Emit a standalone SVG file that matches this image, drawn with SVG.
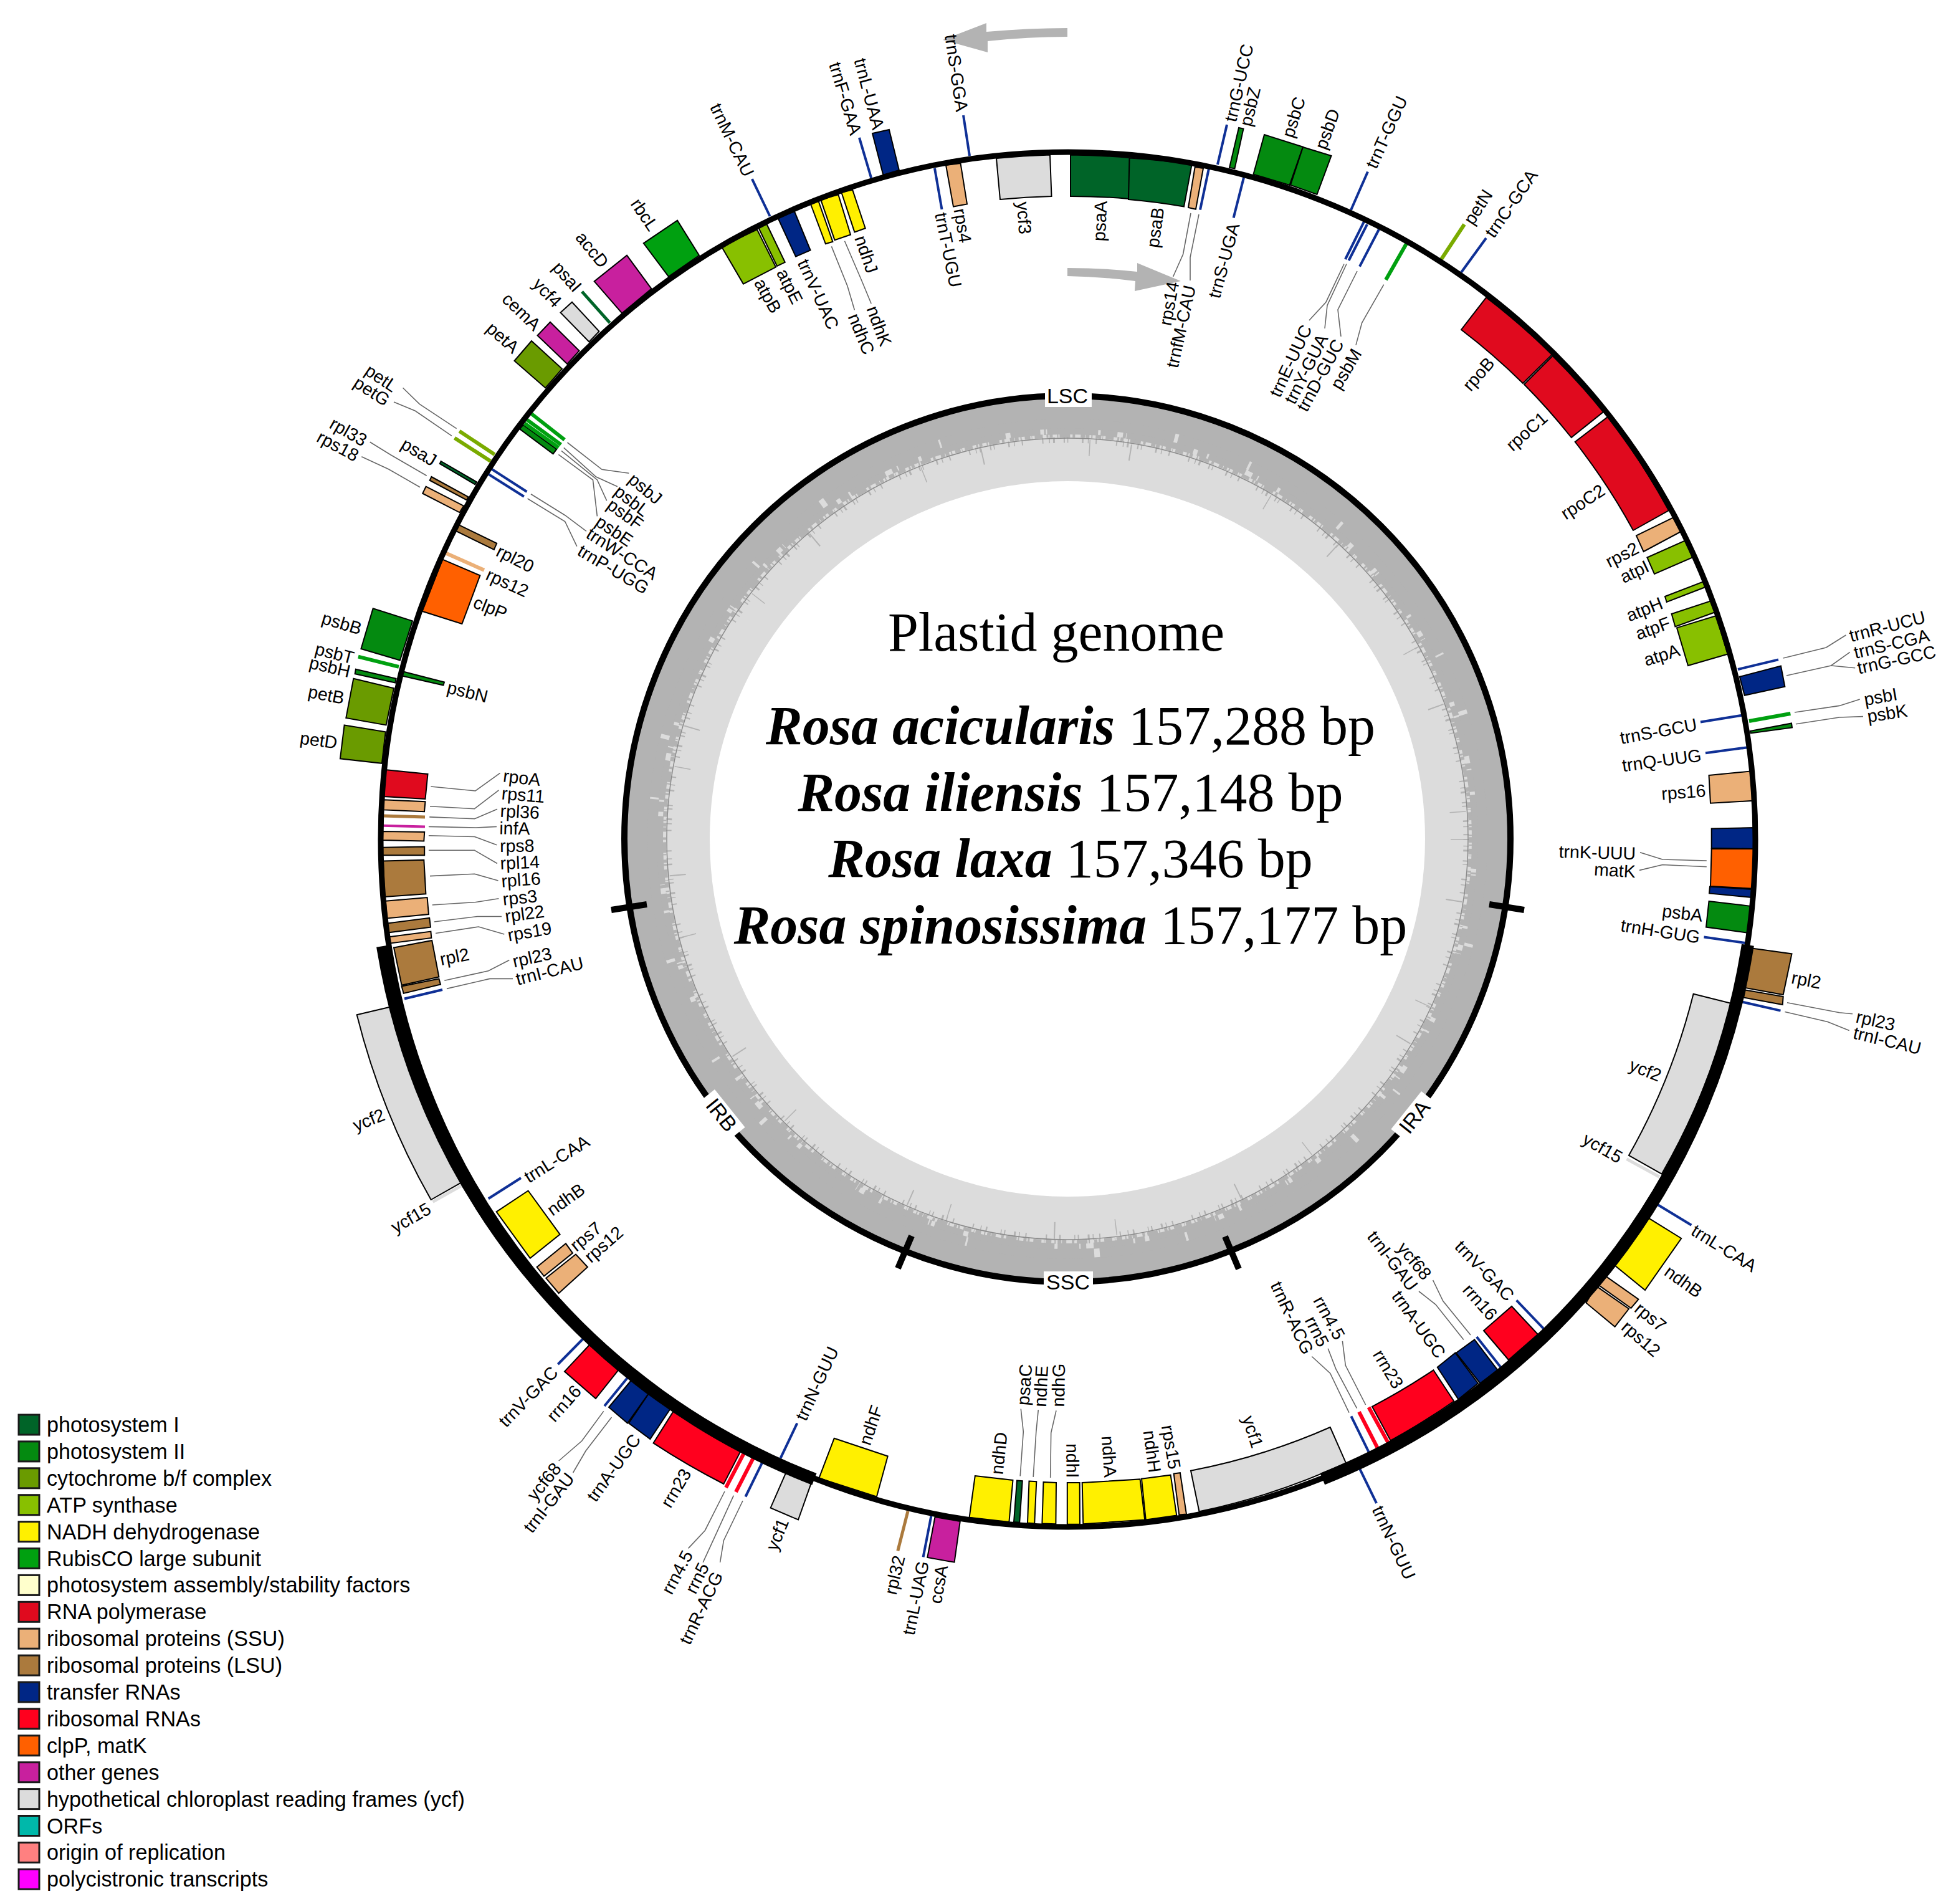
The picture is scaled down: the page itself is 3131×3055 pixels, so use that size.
<svg xmlns="http://www.w3.org/2000/svg" width="3131" height="3055" viewBox="0 0 3131 3055">
<style>
text{font-family:"Liberation Sans",Arial,sans-serif;fill:#000}
.l{font-size:28.5px;text-anchor:middle}
.b{font-size:34px;text-anchor:middle}
.t{font-size:34.2px}
.h{font-family:"Liberation Serif","Times New Roman",serif;font-size:88px;text-anchor:middle}
.i{font-weight:bold;font-style:italic}
.c polyline{fill:none;stroke:#666;stroke-width:1.6}
polygon,path.g{stroke:#000;stroke-width:2;stroke-linejoin:miter}
.sw rect{stroke:#1a1a1a;stroke-width:3}
.psi{fill:#006428}.psii{fill:#048a10}.cyt{fill:#6a9b00}.atp{fill:#88c000}.nad{fill:#fff000}.rub{fill:#00a010}.asm{fill:#ffffcc}.pol{fill:#e00a1e}.ssu{fill:#ebb078}.lsu{fill:#ab7a3d}.trn{fill:#002685}.rrn{fill:#ff001e}.clp{fill:#ff6000}.oth{fill:#c8209e}.ycf{fill:#dcdcdc}.orf{fill:#00b8aa}.ori{fill:#ff8080}.ply{fill:#ff00ff}
line{fill:none}
.bl{stroke:#0f3096;stroke-width:4}
.rl{stroke:#ff001e;stroke-width:6}
.gl{stroke:#00a010;stroke-width:6}
.dgl{stroke:#006428;stroke-width:5}
.pl{stroke:#7aab00;stroke-width:6}
.sl{stroke:#ebb078;stroke-width:6}
.ll{stroke:#ab7a3d;stroke-width:5}
.ml{stroke:#c8209e;stroke-width:4}
.yl{stroke:#dcdcdc;stroke-width:5}
.ar{fill:#b3b3b3;stroke:none}
.gc{fill:none;stroke:#b3b3b3}
.tk{stroke:#000;stroke-width:10}
</style>
<rect width="3131" height="3055" fill="#fff"/>

<g id="gc-track">
<circle class="gc" cx="1713" cy="1346" r="642.5" stroke-width="137" style="stroke:#dcdcdc"/>
<circle class="gc" cx="1713" cy="1346" r="692" stroke-width="38"/>
<circle class="gc" cx="1713" cy="1346" r="666" stroke-width="16" stroke-dasharray="170 5 260 3 95 7 310 4 140 9 205 3 380 6 120 4"/>
<circle class="gc" cx="1713" cy="1346" r="654" stroke-width="10" stroke-dasharray="48 6 3 2 82 4 27 9 5 1 110 7 16 3 64 12 9 2 35 5 140 8"/>
<circle class="gc" cx="1713" cy="1346" r="647" stroke-width="6" stroke-dasharray="6 3 2 5 9 2 1 4 13 6 3 2 5 7 2 2 17 4 4 9 7 1"/>
<circle class="gc" cx="1713" cy="1346" r="640" stroke-width="9" stroke-dasharray="2 9 1.5 5 3 14 2 4 1.5 22 2.5 7 1.5 11 2 31"/>
<circle class="gc" cx="1713" cy="1346" r="628" stroke-width="26" stroke-dasharray="1.5 97 2 171 1.5 64 2 233 1.5 129 2 203"/>
<circle cx="1713" cy="1346" r="643" fill="none" stroke="#8a8a8a" stroke-width="1.5"/>
</g>
<circle id="inner-ring" cx="1713" cy="1346" r="711" fill="none" stroke="#000" stroke-width="10"/>
<g id="region-ticks">
<line class="tk" x1="2390" y1="1451" x2="2446" y2="1460"/>
<line class="tk" x1="981" y1="1460" x2="1038" y2="1451"/>
<line class="tk" x1="1463" y1="1983" x2="1441" y2="2035"/>
<line class="tk" x1="1966" y1="1984" x2="1988" y2="2036"/>
</g>
<g id="LSC"><rect x="1677" y="620" width="75" height="33" fill="#fff"/><text class="b" x="1713" y="647">LSC</text></g>
<g id="SSC"><rect x="1675" y="2040" width="79" height="34" fill="#fff"/><text class="b" x="1714" y="2069">SSC</text></g>
<g id="IRA" transform="translate(2270 1792) rotate(-51.4)"><rect x="-39" y="-17" width="78" height="34" fill="#fff"/><text class="b" dy=".35em">IRA</text></g>
<g id="IRB" transform="translate(1158 1789) rotate(51.4)"><rect x="-39" y="-17" width="78" height="34" fill="#fff"/><text class="b" dy=".35em">IRB</text></g>

<g id="title">
<text class="h" x="1695" y="1044">Plastid genome</text>
<text class="h" x="1718" y="1194"><tspan class="i">Rosa acicularis</tspan> 157,288 bp</text>
<text class="h" x="1718" y="1301"><tspan class="i">Rosa iliensis</tspan> 157,148 bp</text>
<text class="h" x="1718" y="1407"><tspan class="i">Rosa laxa</tspan> 157,346 bp</text>
<text class="h" x="1718" y="1514"><tspan class="i">Rosa spinosissima</tspan> 157,177 bp</text>
</g>

<g id="strand-arrows">
<path class="ar" d="M1713 45Q1650 45 1583 51L1583 37L1513 64L1585 84L1585 66Q1650 59 1713 59Z"/>
<path class="ar" d="M1713 430Q1770 430 1825 436L1825 422L1895 451L1821 467L1822 451Q1770 444 1713 443Z"/>
</g>

<g id="connectors" class="c">
<polyline points="1911,342 1898.6,408 1882.6,444"/>
<polyline points="1924,344 1910,413 1910,450"/>
<polyline points="2157,423.5 2128,484.7 2101,514"/>
<polyline points="2161,423.5 2130,490 2126,527"/>
<polyline points="2178,435 2147,497 2152,540"/>
<polyline points="2220.7,456.6 2185.6,518 2176,553.6"/>
<polyline points="2861.7,1056 2930.6,1039 2962.4,1019"/>
<polyline points="2867,1084 2938.6,1068 2968.8,1046.3"/>
<polyline points="2938.6,1068 2977.2,1071.8"/>
<polyline points="2880,1143 2951.8,1132.4 2984.7,1122"/>
<polyline points="2881.9,1161.7 2951.8,1151 2990,1149.6"/>
<polyline points="2632,1367.7 2668,1379 2738.8,1381"/>
<polyline points="2631,1396.4 2668,1387.5 2738.8,1390.7"/>
<polyline points="2868,1608.8 2951.8,1624.7 2973,1626.7"/>
<polyline points="2864.4,1623.5 2933,1639.4 2967.7,1653.4"/>
<polyline points="2360,2142 2315.8,2087.5 2299.6,2054"/>
<polyline points="2348.8,2149.5 2303.9,2093 2277,2072"/>
<polyline points="2191.6,2254 2159.3,2190.8 2154.4,2151.8"/>
<polyline points="2177.5,2259.7 2143.9,2196.6 2131.2,2163.8"/>
<polyline points="2165,2266.6 2134.7,2203.4 2105.3,2176.5"/>
<polyline points="1638.3,2260.5 1642.3,2297.3 1637.2,2368.5"/>
<polyline points="1666.3,2262.2 1662.8,2297.3 1658.2,2369.9"/>
<polyline points="1695,2263.3 1686.7,2299 1685.7,2371"/>
<polyline points="1163,2393 1131.4,2455.7 1104.6,2484.4"/>
<polyline points="1177.3,2399.6 1147.3,2465.3 1128.2,2506.8"/>
<polyline points="1192,2408 1161.4,2471.7 1155.6,2506.8"/>
<polyline points="968.7,2264.4 933.7,2312 896.7,2344"/>
<polyline points="981.5,2274 940,2328 919.6,2363"/>
<polyline points="691.4,1262 762.9,1269 802.6,1240.3"/>
<polyline points="690,1293.7 761.5,1297.7 800.4,1267.9"/>
<polyline points="689.2,1310.9 761.5,1313.8 798,1298.3"/>
<polyline points="687.9,1326.4 763.8,1328 797,1326.4"/>
<polyline points="687.9,1340.8 761.5,1342.5 797.2,1355.7"/>
<polyline points="687.9,1364.3 761.5,1364.3 798,1385.5"/>
<polyline points="690,1405.6 761.5,1402.2 799.5,1413"/>
<polyline points="693.7,1452 763.8,1447.5 800.4,1441.8"/>
<polyline points="696.8,1479 766,1470.5 805,1470.5"/>
<polyline points="699,1497.5 768,1487 809.3,1499"/>
<polyline points="713.3,1573.2 783.8,1557.8 817.3,1540.5"/>
<polyline points="716.9,1586.4 786,1570.4 823,1570.4"/>
<polyline points="732.6,687.7 673.3,648.3 646.5,622.3"/>
<polyline points="725,699.3 666.4,659.3 632,645"/>
<polyline points="593.7,709.3 627.3,730 684.7,763.3"/>
<polyline points="580.3,732.7 623.5,752.7 674,781.7"/>
<polyline points="910.5,710 966,753.3 1009.3,759.3"/>
<polyline points="904.8,718.3 956.4,765 990.9,780.7"/>
<polyline points="901,723.3 958.4,770 973.7,803.3"/>
<polyline points="896.4,729.3 951.5,770 958.4,828.3"/>
<polyline points="852,792.7 906.7,826.7 941,852.3"/>
<polyline points="846.6,800 906.7,836.7 925.8,876.7"/>
<polyline points="1334.4,395.4 1360,459 1371.4,497.4"/>
<polyline points="1355.5,386.7 1382.3,449 1398.2,487.2"/>
</g>

<g id="trnS-GGA"><line class="bl" x1="1546" y1="185" x2="1556" y2="250"/><text class="l" transform="translate(1535 117) rotate(81.7)" dy=".35em">trnS-GGA</text></g>
<g id="trnT-UGU"><line class="bl" x1="1500" y1="270" x2="1511.5" y2="336"/><text class="l" transform="translate(1522 401) rotate(78.5)" dy=".35em">trnT-UGU</text></g>
<g id="rps4"><polygon class="ssu" points="1518,265 1541.5,262 1552,327.5 1530,331.6"/><text class="l" transform="translate(1545 362) rotate(80.3)" dy=".35em">rps4</text></g>
<g id="ycf3"><path class="g ycf" d="M1599 254A1097 1097 0 0 1 1685 248.5L1687.5 315A1033 1033 0 0 0 1605 320Z"/><text class="l" transform="translate(1643.5 349.5) rotate(85.9)" dy=".35em">ycf3</text></g>
<g id="psaA"><path class="g psi" d="M1718 248.5A1097 1097 0 0 1 1816 253.6L1811 319A1033 1033 0 0 0 1718 315Z"/><text class="l" transform="translate(1765 354.6) rotate(-87.1)" dy=".35em">psaA</text></g>
<g id="psaB"><path class="g psi" d="M1812.5 253.6A1097 1097 0 0 1 1912.6 264L1900 331.6A1033 1033 0 0 0 1811 320Z"/><text class="l" transform="translate(1854 365) rotate(-81.9)" dy=".35em">psaB</text></g>
<g id="rps14"><polygon class="ssu" points="1917.7,268 1931,270 1919,335.7 1907,333"/><text class="l" transform="translate(1876 487) rotate(-79.3)" dy=".35em">rps14</text></g>
<g id="trnfM-CAU"><line class="bl" x1="1940" y1="270.4" x2="1926" y2="336.7"/><text class="l" transform="translate(1895 524) rotate(-77.6)" dy=".35em">trnfM-CAU</text></g>
<g id="trnS-UGA"><line class="bl" x1="1996" y1="285" x2="1979.6" y2="349.5"/><text class="l" transform="translate(1964 418) rotate(-74.9)" dy=".35em">trnS-UGA</text></g>
<g id="trnG-UCC"><line class="bl" x1="1954" y1="264" x2="1969" y2="200"/><text class="l" transform="translate(1988 133) rotate(-77.3)" dy=".35em">trnG-UCC</text></g>
<g id="psbZ"><polygon class="psii" points="1973,269 1981.5,270.4 1995.5,206.6 1988,205"/><text class="l" transform="translate(2006 171) rotate(-76.1)" dy=".35em">psbZ</text></g>
<g id="psbC"><polygon class="psii" points="2011.5,279.6 2029,216 2091,235.7 2069.5,297"/><text class="l" transform="translate(2076 188) rotate(-72.6)" dy=".35em">psbC</text></g>
<g id="psbD"><polygon class="psii" points="2071,297 2091,236 2136.5,250 2113.5,312"/><text class="l" transform="translate(2130 207) rotate(-70)" dy=".35em">psbD</text></g>
<g id="trnT-GGU"><line class="bl" x1="2168" y1="337" x2="2195" y2="275.5"/><text class="l" transform="translate(2225 212) rotate(-65.8)" dy=".35em">trnT-GGU</text></g>
<g id="trnE-UUC"><line class="bl" x1="2189" y1="355.6" x2="2159" y2="416"/><text class="l" transform="translate(2071 579) rotate(-65.1)" dy=".35em">trnE-UUC</text></g>
<g id="trnY-GUA"><line class="bl" x1="2194" y1="360" x2="2164.5" y2="418"/><text class="l" transform="translate(2096 592) rotate(-63.2)" dy=".35em">trnY-GUA</text></g>
<g id="trnD-GUC"><line class="bl" x1="2213" y1="368" x2="2182" y2="427.6"/><text class="l" transform="translate(2118.6 602) rotate(-61.5)" dy=".35em">trnD-GUC</text></g>
<g id="psbM"><line class="gl" x1="2257" y1="391" x2="2224" y2="449"/><text class="l" transform="translate(2160 592) rotate(-59.4)" dy=".35em">psbM</text></g>
<g id="petN"><line class="pl" x1="2313" y1="416" x2="2350" y2="360"/><text class="l" transform="translate(2372 332) rotate(-57)" dy=".35em">petN</text></g>
<g id="trnC-GCA"><line class="bl" x1="2345" y1="437" x2="2385" y2="382"/><text class="l" transform="translate(2425 326.5) rotate(-55.1)" dy=".35em">trnC-GCA</text></g>
<g id="rpoB"><path class="g pol" d="M2385 477.3A1097 1097 0 0 1 2490.7 569L2444 615A1033 1033 0 0 0 2345 529Z"/><text class="l" transform="translate(2372.7 600) rotate(-48.6)" dy=".35em">rpoB</text></g>
<g id="rpoC1"><path class="g pol" d="M2491.7 571A1097 1097 0 0 1 2573 661L2521.7 702A1033 1033 0 0 0 2446 616.7Z"/><text class="l" transform="translate(2450 692) rotate(-41.7)" dy=".35em">rpoC1</text></g>
<g id="rpoC2"><path class="g pol" d="M2580 669A1097 1097 0 0 1 2678 819L2621 851A1033 1033 0 0 0 2527.7 709Z"/><text class="l" transform="translate(2540 805) rotate(-33.3)" dy=".35em">rpoC2</text></g>
<g id="rps2"><polygon class="ssu" points="2626,859.4 2687,829.5 2697.5,853 2637.6,885"/><text class="l" transform="translate(2603 890) rotate(-27.2)" dy=".35em">rps2</text></g>
<g id="atpI"><polygon class="atp" points="2643.4,894.5 2705,867 2716,894.5 2655,921"/><text class="l" transform="translate(2623 917) rotate(-25.3)" dy=".35em">atpI</text></g>
<g id="atpH"><polygon class="atp" points="2672,957 2733.5,933.4 2736,942.3 2674.7,966"/><text class="l" transform="translate(2639 977.4) rotate(-21.8)" dy=".35em">atpH</text></g>
<g id="atpF"><polygon class="atp" points="2682.6,985 2750,962.8 2753,982 2688.4,1005.5"/><text class="l" transform="translate(2652.4 1008) rotate(-19.9)" dy=".35em">atpF</text></g>
<g id="atpA"><polygon class="atp" points="2691,1007.4 2754,988 2772.7,1049.5 2709,1068"/><text class="l" transform="translate(2666.7 1050.8) rotate(-17.3)" dy=".35em">atpA</text></g>
<g id="trnR-UCU"><line class="bl" x1="2789" y1="1074" x2="2854" y2="1058.4"/><text class="l" transform="translate(3028.7 1004.8) rotate(-14.6)" dy=".35em">trnR-UCU</text></g>
<g id="trnS-CGA"><polygon class="trn" points="2791.8,1085.8 2858,1068.6 2864.4,1101.8 2799.7,1115.8"/><text class="l" transform="translate(3035.5 1033) rotate(-13.4)" dy=".35em">trnS-CGA</text></g>
<g id="trnG-GCC"><text class="l" transform="translate(3043.5 1058.4) rotate(-12.2)" dy=".35em">trnG-GCC</text></g>
<g id="psbI"><line class="gl" x1="2807" y1="1157" x2="2873.4" y2="1145"/><text class="l" transform="translate(3018 1117.7) rotate(-10)" dy=".35em">psbI</text></g>
<g id="psbK"><polygon class="psii" points="2808.7,1173 2875,1160.5 2876,1167.5 2809.8,1176.4"/><text class="l" transform="translate(3028.7 1144.5) rotate(-8.8)" dy=".35em">psbK</text></g>
<g id="trnS-GCU"><line class="bl" x1="2795.5" y1="1147.7" x2="2729" y2="1158.5"/><text class="l" transform="translate(2661.4 1173) rotate(-10.4)" dy=".35em">trnS-GCU</text></g>
<g id="trnQ-UUG"><line class="bl" x1="2803" y1="1199.4" x2="2737" y2="1208.3"/><text class="l" transform="translate(2666.7 1219.8) rotate(-7.6)" dy=".35em">trnQ-UUG</text></g>
<g id="rps16"><polygon class="ssu" points="2742.5,1244 2808.7,1237.6 2813,1284.8 2745,1288.7"/><text class="l" transform="translate(2701.7 1270.8) rotate(-4.4)" dy=".35em">rps16</text></g>
<g id="trnK-UUU"><polygon class="trn" points="2746.7,1329.5 2814,1328 2814,1362 2746.7,1360.7"/><polygon class="trn" points="2744,1422.6 2811.4,1427 2809.8,1439.8 2743,1433.4"/><text class="l" transform="translate(2563.4 1367.7) rotate(1.4)" dy=".35em">trnK-UUU</text></g>
<g id="matK"><polygon class="clp" points="2746.7,1362 2814,1362 2814,1425.8 2745,1422"/><text class="l" transform="translate(2591.5 1396.4) rotate(3.2)" dy=".35em">matK</text></g>
<g id="psbA"><polygon class="psii" points="2742.5,1446 2808.7,1453.8 2807,1497 2738,1487.6"/><text class="l" transform="translate(2700 1465) rotate(6.8)" dy=".35em">psbA</text></g>
<g id="trnH-GUG"><line class="bl" x1="2734.5" y1="1503.6" x2="2800.8" y2="1513"/><text class="l" transform="translate(2664.6 1494) rotate(8.8)" dy=".35em">trnH-GUG</text></g>
<g id="rpl2-a"><polygon class="lsu" points="2811.4,1521.4 2875.5,1530.4 2861.7,1596 2800.8,1585"/><text class="l" transform="translate(2898.8 1572.4) rotate(10.8)" dy=".35em">rpl2</text></g>
<g id="rpl23-a"><polygon class="lsu" points="2800.8,1588.4 2861.7,1599 2860.7,1612 2798,1600.5"/><text class="l" transform="translate(3010 1637.5) rotate(12.6)" dy=".35em">rpl23</text></g>
<g id="trnI-CAU-a"><line class="bl" x1="2795.5" y1="1607.5" x2="2857.5" y2="1621.6"/><text class="l" transform="translate(3028.7 1669.4) rotate(13.8)" dy=".35em">trnI-CAU</text></g>
<g id="ycf2-a"><path class="g ycf" d="M2717.6 1594.8L2778.5 1610A1097 1097 0 0 1 2666.7 1883.7L2614 1853.8A1033 1033 0 0 0 2717.6 1594.8Z"/><text class="l" transform="translate(2640.7 1717) rotate(21.8)" dy=".35em">ycf2</text></g>
<g id="ycf15-a"><line class="yl" x1="2610.5" y1="1859.6" x2="2663" y2="1888.3"/><text class="l" transform="translate(2572 1841.8) rotate(30)" dy=".35em">ycf15</text></g>
<g id="trnL-CAA-a"><line class="bl" x1="2659.6" y1="1932.5" x2="2714.4" y2="1965.8"/><text class="l" transform="translate(2767 2002.5) rotate(31.9)" dy=".35em">trnL-CAA</text></g>
<g id="ndhB-a"><polygon class="nad" points="2645.6,1954.3 2698.2,1987 2640,2070 2590.9,2030"/><text class="l" transform="translate(2701.8 2056) rotate(35.7)" dy=".35em">ndhB</text></g>
<g id="rps7-a"><polygon class="ssu" points="2574,2045.6 2629.5,2084.6 2617.5,2099 2565,2061.6"/><text class="l" transform="translate(2649 2113) rotate(39.3)" dy=".35em">rps7</text></g>
<g id="rps12-a"><polygon class="ssu" points="2561.4,2063.4 2614,2100 2591.6,2128.8 2545.3,2090.4"/><text class="l" transform="translate(2633.7 2147.8) rotate(41)" dy=".35em">rps12</text></g>
<g id="trnV-GAC-a"><line class="bl" x1="2477" y1="2131.7" x2="2433.7" y2="2086.3"/><text class="l" transform="translate(2382.5 2038.7) rotate(46)" dy=".35em">trnV-GAC</text></g>
<g id="rrn16-a"><polygon class="rrn" points="2426,2096 2468,2141 2421,2182 2381,2135"/><text class="l" transform="translate(2375.4 2089) rotate(48.3)" dy=".35em">rrn16</text></g>
<g id="ycf68-a"><line class="bl" x1="2369.8" y1="2145" x2="2408.4" y2="2193.7"/><text class="l" transform="translate(2270 2023) rotate(50.6)" dy=".35em">ycf68</text></g>
<g id="trnI-GAU-a"><polygon class="trn" points="2336.8,2170.7 2366.3,2149.5 2403.5,2198.3 2375.4,2219.5"/><text class="l" transform="translate(2235 2023) rotate(52.4)" dy=".35em">trnI-GAU</text></g>
<g id="trnA-UGC-a"><polygon class="trn" points="2306.7,2193.7 2335.4,2170.7 2372,2219.5 2340.4,2245.3"/><text class="l" transform="translate(2277 2124.8) rotate(54.1)" dy=".35em">trnA-UGC</text></g>
<g id="rrn23-a"><path class="g rrn" d="M2300.4 2198.3L2333.3 2248.2A1097 1097 0 0 1 2231.6 2311.4L2202 2256.8A1033 1033 0 0 0 2300.4 2198.3Z"/><text class="l" transform="translate(2228 2196.6) rotate(58.8)" dy=".35em">rrn23</text></g>
<g id="rrn4.5-a"><line class="rl" x1="2196.5" y1="2258" x2="2228" y2="2315.4"/><text class="l" transform="translate(2133.3 2114.5) rotate(61.4)" dy=".35em">rrn4.5</text></g>
<g id="rrn5-a"><line class="rl" x1="2181" y1="2265.4" x2="2210.5" y2="2322.8"/><text class="l" transform="translate(2113.7 2136.3) rotate(63)" dy=".35em">rrn5</text></g>
<g id="trnR-ACG-a"><line class="bl" x1="2168.4" y1="2272.3" x2="2196.5" y2="2329.7"/><text class="l" transform="translate(2073.7 2114.5) rotate(64.9)" dy=".35em">trnR-ACG</text></g>
<g id="trnN-GUU-a"><line class="bl" x1="2181" y1="2354.4" x2="2209" y2="2411.8"/><text class="l" transform="translate(2237 2475) rotate(65.1)" dy=".35em">trnN-GUU</text></g>
<g id="ycf1-a"><path class="g ycf" d="M2134.7 2290L2160 2347.4A1097 1097 0 0 1 1924.5 2425.3L1911 2359.7A1033 1033 0 0 0 2134.7 2290Z"/><text class="l" transform="translate(2010.7 2297.3) rotate(72.6)" dy=".35em">ycf1</text></g>
<g id="rps15"><polygon class="ssu" points="1883.7,2364.6 1893.9,2363.2 1904,2429.5 1892.3,2430.6"/><text class="l" transform="translate(1879.6 2321.8) rotate(80.4)" dy=".35em">rps15</text></g>
<g id="ndhH"><polygon class="nad" points="1832,2372.7 1878.6,2366.7 1888.3,2431.6 1838.8,2438.6"/><text class="l" transform="translate(1849 2328.8) rotate(82.2)" dy=".35em">ndhH</text></g>
<g id="ndhA"><polygon class="nad" points="1736.7,2379 1829.6,2373.4 1837.2,2438.6 1738.3,2445.3"/><text class="l" transform="translate(1780 2337) rotate(86.2)" dy=".35em">ndhA</text></g>
<g id="ndhI"><polygon class="nad" points="1712.8,2379 1732.7,2379 1733,2445.7 1712.8,2445.7"/><text class="l" transform="translate(1721.4 2343.6) rotate(89.6)" dy=".35em">ndhI</text></g>
<g id="ndhG"><polygon class="nad" points="1674.5,2378 1695,2379 1694.4,2445.3 1672.4,2444.6"/><text class="l" transform="translate(1698.5 2222.6) rotate(-89)" dy=".35em">ndhG</text></g>
<g id="ndhE"><polygon class="nad" points="1651.5,2376.6 1663.3,2377.3 1660.2,2444.6 1649,2443.5"/><text class="l" transform="translate(1670.4 2224.3) rotate(-87.2)" dy=".35em">ndhE</text></g>
<g id="psaC"><polygon class="psi" points="1632,2375.5 1640.8,2376.2 1636.2,2442.8 1627,2442"/><text class="l" transform="translate(1643.9 2221.9) rotate(-85.4)" dy=".35em">psaC</text></g>
<g id="ndhD"><polygon class="nad" points="1564.8,2368 1625.5,2375 1619.4,2442 1555.6,2434.8"/><text class="l" transform="translate(1603 2331.7) rotate(-83.6)" dy=".35em">ndhD</text></g>
<g id="ccsA"><polygon class="oth" points="1500.5,2434 1540.8,2441 1531.6,2506.7 1488.3,2499"/><text class="l" transform="translate(1506 2542) rotate(-80.1)" dy=".35em">ccsA</text></g>
<g id="trnL-UAG"><line class="bl" x1="1494.4" y1="2432.3" x2="1481.6" y2="2498.3"/><text class="l" transform="translate(1469.4 2564) rotate(-78.6)" dy=".35em">trnL-UAG</text></g>
<g id="rpl32"><line class="ll" x1="1457" y1="2424.6" x2="1440.8" y2="2488.4"/><text class="l" transform="translate(1435.7 2527) rotate(-76.7)" dy=".35em">rpl32</text></g>
<g id="ndhF"><polygon class="nad" points="1338.7,2307.8 1424.7,2336.5 1406.9,2401.5 1314.4,2371.6"/><text class="l" transform="translate(1397.3 2286.7) rotate(-71.4)" dy=".35em">ndhF</text></g>
<g id="trnN-GUU-b"><line class="bl" x1="1252.6" y1="2339.7" x2="1279.3" y2="2283.5"/><text class="l" transform="translate(1311 2219.8) rotate(-65.2)" dy=".35em">trnN-GUU</text></g>
<g id="ycf1-b"><polygon class="ycf" points="1262,2361.4 1302,2379.2 1281,2438.5 1236.6,2419.4"/><text class="l" transform="translate(1247.4 2462) rotate(-67.3)" dy=".35em">ycf1</text></g>
<g id="trnR-ACG-b"><line class="bl" x1="1223.9" y1="2345.4" x2="1196.4" y2="2401.5"/><text class="l" transform="translate(1125 2580) rotate(-64.5)" dy=".35em">trnR-ACG</text></g>
<g id="rrn5-b"><line class="rl" x1="1209.8" y1="2337.7" x2="1181" y2="2393.9"/><text class="l" transform="translate(1118.6 2532) rotate(-63.3)" dy=".35em">rrn5</text></g>
<g id="rrn4.5-b"><line class="rl" x1="1195" y1="2329.5" x2="1165" y2="2386.9"/><text class="l" transform="translate(1086.7 2522.7) rotate(-61.9)" dy=".35em">rrn4.5</text></g>
<g id="rrn23-b"><path class="g rrn" d="M1161.4 2381A1175 1175 0 0 1 1048.5 2315.4L1081.6 2263A1113 1113 0 0 0 1188.8 2328Z"/><text class="l" transform="translate(1084.8 2387.5) rotate(-58.8)" dy=".35em">rrn23</text></g>
<g id="trnA-UGC-b"><polygon class="trn" points="1042,2234.4 1075.2,2261.2 1043.4,2309 1009,2283.5"/><text class="l" transform="translate(984.7 2355) rotate(-54.1)" dy=".35em">trnA-UGC</text></g>
<g id="trnI-GAU-b"><polygon class="trn" points="1015.3,2212 1042,2234.4 1007,2283.5 977,2258"/><text class="l" transform="translate(880.7 2411) rotate(-51.9)" dy=".35em">trnI-GAU</text></g>
<g id="ycf68-b"><line class="bl" x1="1009" y1="2208.3" x2="970" y2="2256"/><text class="l" transform="translate(873 2377) rotate(-50.8)" dy=".35em">ycf68</text></g>
<g id="rrn16-b"><polygon class="rrn" points="949.6,2154 995.5,2194.3 956,2244 906,2200.6"/><text class="l" transform="translate(905 2251.7) rotate(-48.2)" dy=".35em">rrn16</text></g>
<g id="trnV-GAC-b"><line class="bl" x1="938.8" y1="2145" x2="895.4" y2="2189"/><text class="l" transform="translate(847.6 2240.8) rotate(-45.9)" dy=".35em">trnV-GAC</text></g>
<g id="rps12-b"><polygon class="ssu" points="876.3,2050.8 924,2012.5 943,2033 896.7,2075"/><text class="l" transform="translate(968.7 1996.6) rotate(-41.1)" dy=".35em">rps12</text></g>
<g id="rps7-b"><polygon class="ssu" points="861.6,2033 908,1995.3 919,2010.6 873,2047.6"/><text class="l" transform="translate(940 1983.8) rotate(-39.5)" dy=".35em">rps7</text></g>
<g id="ndhB-b"><polygon class="nad" points="796.6,1944.3 847.6,1910.5 898.6,1980.6 850.8,2018.9"/><text class="l" transform="translate(908 1924.5) rotate(-35.6)" dy=".35em">ndhB</text></g>
<g id="trnL-CAA-b"><line class="bl" x1="783.8" y1="1923.2" x2="836" y2="1890"/><text class="l" transform="translate(893.5 1859.4) rotate(-32)" dy=".35em">trnL-CAA</text></g>
<g id="ycf15-b"><line class="yl" x1="694.5" y1="1928.3" x2="745.5" y2="1899.6"/><text class="l" transform="translate(659.4 1953.8) rotate(-29.9)" dy=".35em">ycf15</text></g>
<g id="ycf2-b"><path class="g ycf" d="M572.7 1628.3L633.3 1614A1113 1113 0 0 0 744.3 1895L691.7 1925A1175 1175 0 0 1 572.7 1628.3Z"/><text class="l" transform="translate(591.7 1796.7) rotate(-21.8)" dy=".35em">ycf2</text></g>
<g id="trnI-CAU-b"><line class="bl" x1="649" y1="1602.5" x2="710" y2="1588"/><text class="l" transform="translate(882 1557.8) rotate(-14.2)" dy=".35em">trnI-CAU</text></g>
<g id="rpl23-b"><polygon class="lsu" points="644.6,1582.4 704.4,1570.4 707,1579.5 647.7,1593.9"/><text class="l" transform="translate(853.9 1536) rotate(-12.4)" dy=".35em">rpl23</text></g>
<g id="rpl2-b"><polygon class="lsu" points="632,1520.4 693.2,1509 704.4,1567.5 644.6,1580.7"/><text class="l" transform="translate(729.4 1534.8) rotate(-10.8)" dy=".35em">rpl2</text></g>
<g id="rps19"><polygon class="ssu" points="624.5,1503.2 691.4,1494.6 692.3,1505 626.7,1513.5"/><text class="l" transform="translate(849.9 1494.6) rotate(-9.7)" dy=".35em">rps19</text></g>
<g id="rpl22"><polygon class="lsu" points="621.8,1481.4 689.2,1472.8 691,1487.7 624,1496.3"/><text class="l" transform="translate(841.9 1465.9) rotate(-7.8)" dy=".35em">rpl22</text></g>
<g id="rps3"><polygon class="ssu" points="618.7,1445.8 685.6,1440 687.9,1467 620.9,1473.4"/><text class="l" transform="translate(834.3 1440) rotate(-6)" dy=".35em">rps3</text></g>
<g id="rpl16"><polygon class="lsu" points="615,1381.5 680.3,1379.8 683.4,1434.3 617.3,1439"/><text class="l" transform="translate(836 1411.4) rotate(-4.2)" dy=".35em">rpl16</text></g>
<g id="rpl14"><polygon class="lsu" points="614.2,1359.7 681.2,1358.5 681.2,1372.3 614.2,1372.3"/><text class="l" transform="translate(834.3 1383.8) rotate(-2.4)" dy=".35em">rpl14</text></g>
<g id="rps8"><polygon class="ssu" points="614.2,1333.9 681.2,1335 680.3,1349.4 613.8,1348"/><text class="l" transform="translate(829.8 1356.8) rotate(-.6)" dy=".35em">rps8</text></g>
<g id="infA"><line class="ml" x1="614" y1="1324.7" x2="682" y2="1326.4"/><text class="l" transform="translate(826 1329) rotate(1.2)" dy=".35em">infA</text></g>
<g id="rpl36"><line class="ll" x1="615" y1="1309" x2="682" y2="1311"/><text class="l" transform="translate(834.3 1302.3) rotate(2.9)" dy=".35em">rpl36</text></g>
<g id="rps11"><polygon class="ssu" points="615.5,1283.3 682.5,1286.2 681,1302.3 615,1299.4"/><text class="l" transform="translate(839.6 1275.3) rotate(4.7)" dy=".35em">rps11</text></g>
<g id="rpoA"><polygon class="pol" points="617.8,1235 686.5,1242 682.5,1282 616.4,1278"/><text class="l" transform="translate(837.4 1247.8) rotate(6.4)" dy=".35em">rpoA</text></g>
<g id="petD"><polygon class="cyt" points="552.6,1163.4 618.7,1174.3 612.9,1224.8 545.9,1217.3"/><text class="l" transform="translate(511.5 1187.5) rotate(7.6)" dy=".35em">petD</text></g>
<g id="petB"><polygon class="cyt" points="567.3,1088.8 632,1104.2 619.6,1163.4 555.3,1151.9"/><text class="l" transform="translate(523.6 1114.6) rotate(11)" dy=".35em">petB</text></g>
<g id="psbN"><polygon class="psii" points="645,1077 713,1094.5 711.5,1099.5 643,1084"/><text class="l" transform="translate(750.4 1110) rotate(13.8)" dy=".35em">psbN</text></g>
<g id="psbH"><polygon class="psii" points="570.9,1073.8 635.6,1088.8 634.3,1095.6 569.6,1081.3"/><text class="l" transform="translate(529.4 1069.8) rotate(13.2)" dy=".35em">psbH</text></g>
<g id="psbT"><line class="gl" x1="574.9" y1="1053.7" x2="640" y2="1069.8"/><text class="l" transform="translate(537 1048) rotate(14.3)" dy=".35em">psbT</text></g>
<g id="psbB"><polygon class="psii" points="598.6,976.2 662,996.3 641.9,1059.5 579.4,1041"/><text class="l" transform="translate(548.6 999.8) rotate(16.6)" dy=".35em">psbB</text></g>
<g id="clpP"><polygon class="clp" points="710.2,897.6 770.4,923.4 741.4,1001 677.6,980.8"/><text class="l" transform="translate(787 975) rotate(21.9)" dy=".35em">clpP</text></g>
<g id="rps12-c"><line class="sl" x1="716" y1="887.8" x2="777" y2="914.8"/><text class="l" transform="translate(814.2 935) rotate(24.6)" dy=".35em">rps12</text></g>
<g id="rpl20"><polygon class="lsu" points="734.7,841.3 797.2,871.8 792.8,882 731.2,851.7"/><text class="l" transform="translate(827 896.4) rotate(26.9)" dy=".35em">rpl20</text></g>
<g id="rps18"><polygon class="ssu" points="683.6,780.7 744,811.7 737.6,822.3 678.2,791.7"/><text class="l" transform="translate(542.4 715.7) rotate(28.3)" dy=".35em">rps18</text></g>
<g id="rpl33"><polygon class="lsu" points="692.4,765 751.7,797.3 749,802.3 689.7,770.7"/><text class="l" transform="translate(559.2 692.7) rotate(29.5)" dy=".35em">rpl33</text></g>
<g id="psaJ"><polygon class="psi" points="707.7,740 765,773.3 762.4,777.3 705.8,744"/><text class="l" transform="translate(672.5 725) rotate(30.8)" dy=".35em">psaJ</text></g>
<g id="petG"><line class="pl" x1="787.3" y1="740" x2="729.5" y2="702.7"/><text class="l" transform="translate(596.7 627.7) rotate(32.8)" dy=".35em">petG</text></g>
<g id="petL"><line class="pl" x1="793.8" y1="729.3" x2="737.2" y2="691.7"/><text class="l" transform="translate(612 606.7) rotate(33.9)" dy=".35em">petL</text></g>
<g id="trnP-UGG"><line class="bl" x1="784.2" y1="761" x2="840.9" y2="796.7"/><text class="l" transform="translate(984.4 913.3) rotate(30.7)" dy=".35em">trnP-UGG</text></g>
<g id="trnW-CCA"><line class="bl" x1="789.2" y1="752.7" x2="845.5" y2="789"/><text class="l" transform="translate(998.6 888.3) rotate(32.7)" dy=".35em">trnW-CCA</text></g>
<g id="psbE"><polygon class="psii" points="839.7,681.7 893.3,720.7 887.6,728.3 834,688.3"/><text class="l" transform="translate(986 851.7) rotate(34.2)" dy=".35em">psbE</text></g>
<g id="psbF"><line class="gl" x1="841.7" y1="679.3" x2="896.4" y2="718.3"/><text class="l" transform="translate(1003.5 825) rotate(36.3)" dy=".35em">psbF</text></g>
<g id="psbL"><line class="gl" x1="845.5" y1="673.3" x2="900.2" y2="713.3"/><text class="l" transform="translate(1013.9 803.3) rotate(37.9)" dy=".35em">psbL</text></g>
<g id="psbJ"><line class="gl" x1="853" y1="664" x2="906" y2="705.7"/><text class="l" transform="translate(1035.7 784) rotate(39.7)" dy=".35em">psbJ</text></g>
<g id="petA"><polygon class="cyt" points="853,547 902,591.8 875.3,622.4 825.5,579"/><text class="l" transform="translate(807 541.8) rotate(41.6)" dy=".35em">petA</text></g>
<g id="cemA"><polygon class="oth" points="883,516.8 929.5,562.8 910.3,584 862.5,538.3"/><text class="l" transform="translate(837 500) rotate(44)" dy=".35em">cemA</text></g>
<g id="ycf4"><polygon class="ycf" points="918,484.7 961.4,531.6 945.4,548.5 899.5,501.5"/><text class="l" transform="translate(878.4 469.4) rotate(46.4)" dy=".35em">ycf4</text></g>
<g id="psaI"><line class="dgl" x1="934" y1="467.9" x2="978.6" y2="517.9"/><text class="l" transform="translate(910.3 443.9) rotate(48.3)" dy=".35em">psaI</text></g>
<g id="accD"><polygon class="oth" points="1006,409.7 1045.5,463.3 998.3,502.6 953.7,451.5"/><text class="l" transform="translate(950.5 400.5) rotate(51.1)" dy=".35em">accD</text></g>
<g id="rbcL"><polygon class="rub" points="1087,353.6 1122,409.7 1073,443.9 1032.8,390.3"/><text class="l" transform="translate(1034.7 344.4) rotate(55.9)" dy=".35em">rbcL</text></g>
<g id="atpB"><polygon class="atp" points="1215,368.4 1245,428.6 1192.9,455.6 1157.8,395.4"/><text class="l" transform="translate(1232.4 474.5) rotate(61.1)" dy=".35em">atpB</text></g>
<g id="atpE"><polygon class="atp" points="1217.7,366.3 1230.5,359.7 1259.8,420.9 1247,427"/><text class="l" transform="translate(1267.5 459.2) rotate(63.3)" dy=".35em">atpE</text></g>
<g id="trnV-UAC"><polygon class="trn" points="1248.3,349.5 1275,339.3 1300.6,401.5 1277,411.7"/><text class="l" transform="translate(1313.4 472) rotate(65.4)" dy=".35em">trnV-UAC</text></g>
<g id="trnM-CAU"><line class="bl" x1="1235.6" y1="347" x2="1206.9" y2="287.2"/><text class="l" transform="translate(1175 224.5) rotate(64.4)" dy=".35em">trnM-CAU</text></g>
<g id="ndhC"><polygon class="nad" points="1300.6,326.5 1313.4,322.4 1336.4,387.8 1324.9,391.3"/><text class="l" transform="translate(1382.3 535.7) rotate(67.8)" dy=".35em">ndhC</text></g>
<g id="ndhK"><polygon class="nad" points="1317.2,320.4 1345.3,312.2 1365,376.5 1339.5,385.2"/><text class="l" transform="translate(1411 523) rotate(69.8)" dy=".35em">ndhK</text></g>
<g id="ndhJ"><polygon class="nad" points="1350.4,308.7 1368.2,304.6 1388.7,366.3 1371.4,372.4"/><text class="l" transform="translate(1390.6 408) rotate(71)" dy=".35em">ndhJ</text></g>
<g id="trnF-GAA"><line class="bl" x1="1398.2" y1="285.7" x2="1379" y2="220.9"/><text class="l" transform="translate(1356.8 158) rotate(73.3)" dy=".35em">trnF-GAA</text></g>
<g id="trnL-UAA"><polygon class="trn" points="1417.3,280.6 1442.9,273 1426.9,208 1400,214"/><text class="l" transform="translate(1395 150.5) rotate(75.1)" dy=".35em">trnL-UAA</text></g>

<g id="outer-ring" fill="none" stroke="#000">
<circle cx="1714" cy="1347" r="1103" stroke-width="9"/>
<path stroke-width="20" d="M2804.9 1516.2A1104 1104 0 0 1 2122.4 2373"/>
<path stroke-width="20" d="M1306.9 2373.4A1104 1104 0 0 1 614 1518.2"/>
</g>

<g id="legend">
<g class="sw"><rect class="psi" x="30" y="2270" width="33" height="32"/><text class="t" x="75" y="2298">photosystem I</text></g>
<g class="sw"><rect class="psii" x="30" y="2312.9" width="33" height="32"/><text class="t" x="75" y="2340.9">photosystem II</text></g>
<g class="sw"><rect class="cyt" x="30" y="2355.8" width="33" height="32"/><text class="t" x="75" y="2383.8">cytochrome b/f complex</text></g>
<g class="sw"><rect class="atp" x="30" y="2398.7" width="33" height="32"/><text class="t" x="75" y="2426.7">ATP synthase</text></g>
<g class="sw"><rect class="nad" x="30" y="2441.6" width="33" height="32"/><text class="t" x="75" y="2469.6">NADH dehydrogenase</text></g>
<g class="sw"><rect class="rub" x="30" y="2484.5" width="33" height="32"/><text class="t" x="75" y="2512.5">RubisCO large subunit</text></g>
<g class="sw"><rect class="asm" x="30" y="2527.4" width="33" height="32"/><text class="t" x="75" y="2555.4">photosystem assembly/stability factors</text></g>
<g class="sw"><rect class="pol" x="30" y="2570.3" width="33" height="32"/><text class="t" x="75" y="2598.3">RNA polymerase</text></g>
<g class="sw"><rect class="ssu" x="30" y="2613.2" width="33" height="32"/><text class="t" x="75" y="2641.2">ribosomal proteins (SSU)</text></g>
<g class="sw"><rect class="lsu" x="30" y="2656.1" width="33" height="32"/><text class="t" x="75" y="2684.1">ribosomal proteins (LSU)</text></g>
<g class="sw"><rect class="trn" x="30" y="2699" width="33" height="32"/><text class="t" x="75" y="2727">transfer RNAs</text></g>
<g class="sw"><rect class="rrn" x="30" y="2741.9" width="33" height="32"/><text class="t" x="75" y="2769.9">ribosomal RNAs</text></g>
<g class="sw"><rect class="clp" x="30" y="2784.8" width="33" height="32"/><text class="t" x="75" y="2812.8">clpP, matK</text></g>
<g class="sw"><rect class="oth" x="30" y="2827.7" width="33" height="32"/><text class="t" x="75" y="2855.7">other genes</text></g>
<g class="sw"><rect class="ycf" x="30" y="2870.6" width="33" height="32"/><text class="t" x="75" y="2898.6">hypothetical chloroplast reading frames (ycf)</text></g>
<g class="sw"><rect class="orf" x="30" y="2913.5" width="33" height="32"/><text class="t" x="75" y="2941.5">ORFs</text></g>
<g class="sw"><rect class="ori" x="30" y="2956.4" width="33" height="32"/><text class="t" x="75" y="2984.4">origin of replication</text></g>
<g class="sw"><rect class="ply" x="30" y="2999.3" width="33" height="32"/><text class="t" x="75" y="3027.3">polycistronic transcripts</text></g>
</g>
</svg>
